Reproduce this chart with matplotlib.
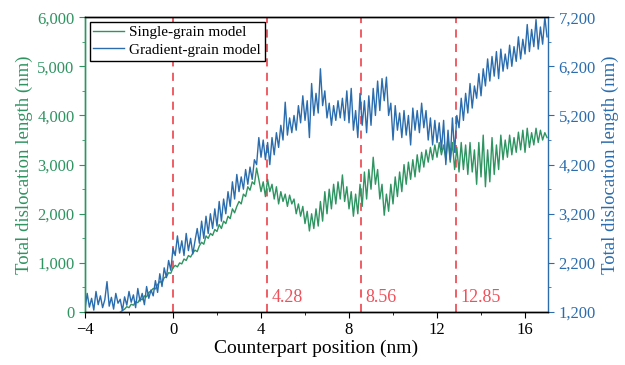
import matplotlib
matplotlib.use('Agg')
import matplotlib.pyplot as plt
import numpy as np
from matplotlib.ticker import MultipleLocator, FuncFormatter

plt.rcParams['font.family'] = 'Liberation Serif'
plt.rcParams['mathtext.fontset'] = 'stix'

# counterpart position sampling (nm)
x_step = 0.1
single_start = -2.4
gradient_start = -4.0

# Single-grain model, left axis (nm)
single_grain = [
    0, 30, 60, 110, 90, 160, 140, 210, 190, 270, 250, 330, 310, 400, 430, 480, 470, 560, 620, 600,
    700, 720, 800, 790, 900, 950, 920, 1000, 980, 1080, 1050, 1150, 1120, 1200, 1260, 1230, 1350, 1420, 1380, 1550,
    1500, 1600, 1560, 1680, 1640, 1780, 1700, 1850, 1800, 1950, 1900, 2100, 2020, 2150, 2250, 2200, 2400, 2350, 2550, 2480,
    2650, 2600, 2930, 2700, 2450, 2650, 2350, 2700, 2450, 2600, 2300, 2550, 2200, 2450, 2250, 2400, 2150, 2380, 2200, 2300,
    2000, 2200, 1950, 2150, 1800, 2050, 1650, 2000, 1700, 2100, 1750, 2250, 1850, 2450, 2000, 2500, 2100, 2600, 2200, 2650,
    2300, 2790, 2250, 2550, 2100, 2450, 1950, 2400, 2000, 2600, 2150, 2850, 2300, 2900, 2500, 3150, 2600, 2900, 2300, 2600,
    1970, 2400, 2050, 2600, 2200, 2750, 2350, 2850, 2450, 3000, 2600, 3050, 2700, 3100, 2750, 3200, 2850, 3250, 2950, 3300,
    3050, 3350, 3100, 3400, 3150, 3450, 3200, 3400, 3100, 3550, 3050, 3450, 2900, 3350, 2850, 3450, 2900, 3400, 2800, 3450,
    2850, 3300, 2600, 3450, 2750, 3600, 2550, 3300, 2650, 3550, 2800, 3400, 2900, 3600, 3100, 3500, 3150, 3600, 3200, 3550,
    3250, 3660, 3300, 3700, 3250, 3740, 3350, 3650, 3400, 3740, 3450, 3700, 3500, 3650, 3550,
]

# Gradient-grain model, right axis (nm)
gradient_grain = [
    1260, 1580, 1300, 1480, 1240, 1620, 1350, 1530, 1290, 1450, 1820,
    1320, 1500, 1260, 1580, 1380, 1460, 1230, 1510, 1340, 1620,
    1400, 1550, 1290, 1680, 1420, 1580, 1350, 1720, 1480, 1650,
    1530, 1840, 1600, 1980, 1720, 2100, 1900, 2250, 2050, 2500,
    2350, 2750, 2400, 2650, 2350, 2800, 2450, 2700, 2380, 2650,
    2900, 2600, 3050, 2700, 3150, 2800, 3200, 2900, 3300, 2950,
    3450, 3050, 3500, 3200, 3650, 3350, 3850, 3500, 4000, 3650,
    3950, 3700, 4100, 3800, 4150, 3900, 4300, 4200, 4750, 4350,
    4700, 4300, 4650, 4200, 4750, 4400, 4850, 4550, 5000, 4700,
    5470, 4800, 5150, 4850, 5200, 4900, 5400, 5050, 5600, 5100,
    5500, 4750, 5850, 5200, 5650, 5250, 6150, 5400, 5700, 5150,
    5450, 5000, 5400, 5100, 5500, 5150, 5550, 5100, 5700, 5050,
    5750, 4900, 5300, 4750, 5650, 5000, 5500, 4850, 5600, 5000,
    5750, 5200, 5900, 5300, 5950, 5500, 5980, 5200, 5450, 4700,
    5400, 4900, 5250, 4750, 5300, 4800, 5200, 4600, 5350, 4900,
    5300, 4850, 5450, 4950, 5300, 4700, 5150, 4600, 5100, 4650,
    5050, 4500, 5100, 4200, 4900, 4300, 5150, 4450, 5200, 4950,
    5550, 5100, 5650, 5250, 5850, 5350, 5800, 5550, 6050, 5600,
    6150, 5800, 6350, 5900, 6400, 6000, 6500, 5950, 6550, 6100,
    6450, 6150, 6630, 6200, 6600, 6300, 6800, 6350, 6750, 6450,
    7050, 6500, 6950, 6600, 7150, 6550, 7000, 6650, 7200, 6800,
]

stage_marks = [0, 4.28, 8.56, 12.85]
stage_labels = ['', '4.28', '8.56', '12.85']

x_single = np.round(single_start + x_step * np.arange(len(single_grain)), 2)
x_grad = np.round(gradient_start + x_step * np.arange(len(gradient_grain)), 2)

green = '#2e9461'
blue = '#2a6cad'
red = '#f0505a'

fig = plt.figure(figsize=(6.25, 3.65), dpi=100)
ax = fig.add_axes([0.136, 0.145, 0.741, 0.808])
ax2 = ax.twinx()

l1, = ax.plot(x_single, single_grain, color=green, lw=1.0, zorder=3)
l2, = ax2.plot(x_grad, gradient_grain, color=blue, lw=1.0, zorder=2)

for xm, lab in zip(stage_marks, stage_labels):
    ax.axvline(xm, color=red, lw=1.3, ls=(0, (4.5, 3.5)), zorder=1)
    if lab:
        ax.text(xm + 0.2, 300, lab, color=red, fontsize=13, ha='left', va='center')

ax.set_xlim(-4, 17.05)
ax.set_ylim(0, 6000)
ax2.set_ylim(1200, 7200)

ax.xaxis.set_major_locator(MultipleLocator(4))
ax.xaxis.set_minor_locator(MultipleLocator(2))
ax.yaxis.set_major_locator(MultipleLocator(1000))
ax.yaxis.set_minor_locator(MultipleLocator(500))
ax2.yaxis.set_major_locator(MultipleLocator(1000, offset=200))
ax2.yaxis.set_minor_locator(MultipleLocator(500, offset=200))

fmt = FuncFormatter(lambda v, p: '{:,.0f}'.format(v))
ax.yaxis.set_major_formatter(fmt)
ax2.yaxis.set_major_formatter(fmt)

ax.tick_params(axis='x', which='both', direction='out', labelsize=12, colors='black')
ax.tick_params(axis='x', which='major', length=4)
ax.tick_params(axis='x', which='minor', length=2.5)
ax.tick_params(axis='y', which='both', direction='out', labelsize=12, colors=green)
ax.tick_params(axis='y', which='major', length=4)
ax.tick_params(axis='y', which='minor', length=2.5)
ax2.tick_params(axis='y', which='both', direction='out', labelsize=12, colors=blue)
ax2.tick_params(axis='y', which='major', length=4)
ax2.tick_params(axis='y', which='minor', length=2.5)

ax.spines['left'].set_color(green)
ax2.spines['left'].set_color(green)
ax2.spines['right'].set_color(blue)
ax.spines['right'].set_visible(False)
for a in (ax, ax2):
    for s in a.spines.values():
        s.set_linewidth(1.0)

ax.set_xlabel('Counterpart position (nm)', fontsize=14, labelpad=1)
ax.set_ylabel('Total dislocation length (nm)', fontsize=13.5, color=green, labelpad=3)
ax2.set_ylabel('Total dislocation length (nm)', fontsize=13.5, color=blue, labelpad=4)

leg = ax2.legend([l1, l2], ['Single-grain model', 'Gradient-grain model'],
                 loc='upper left', fontsize=11, frameon=True, fancybox=False,
                 edgecolor='black', framealpha=1, borderpad=0.25, labelspacing=0.25,
                 handlelength=2.0, handletextpad=0.35, borderaxespad=0.3)
leg.get_frame().set_linewidth(1.0)

fig.savefig('out.png', dpi=100)
